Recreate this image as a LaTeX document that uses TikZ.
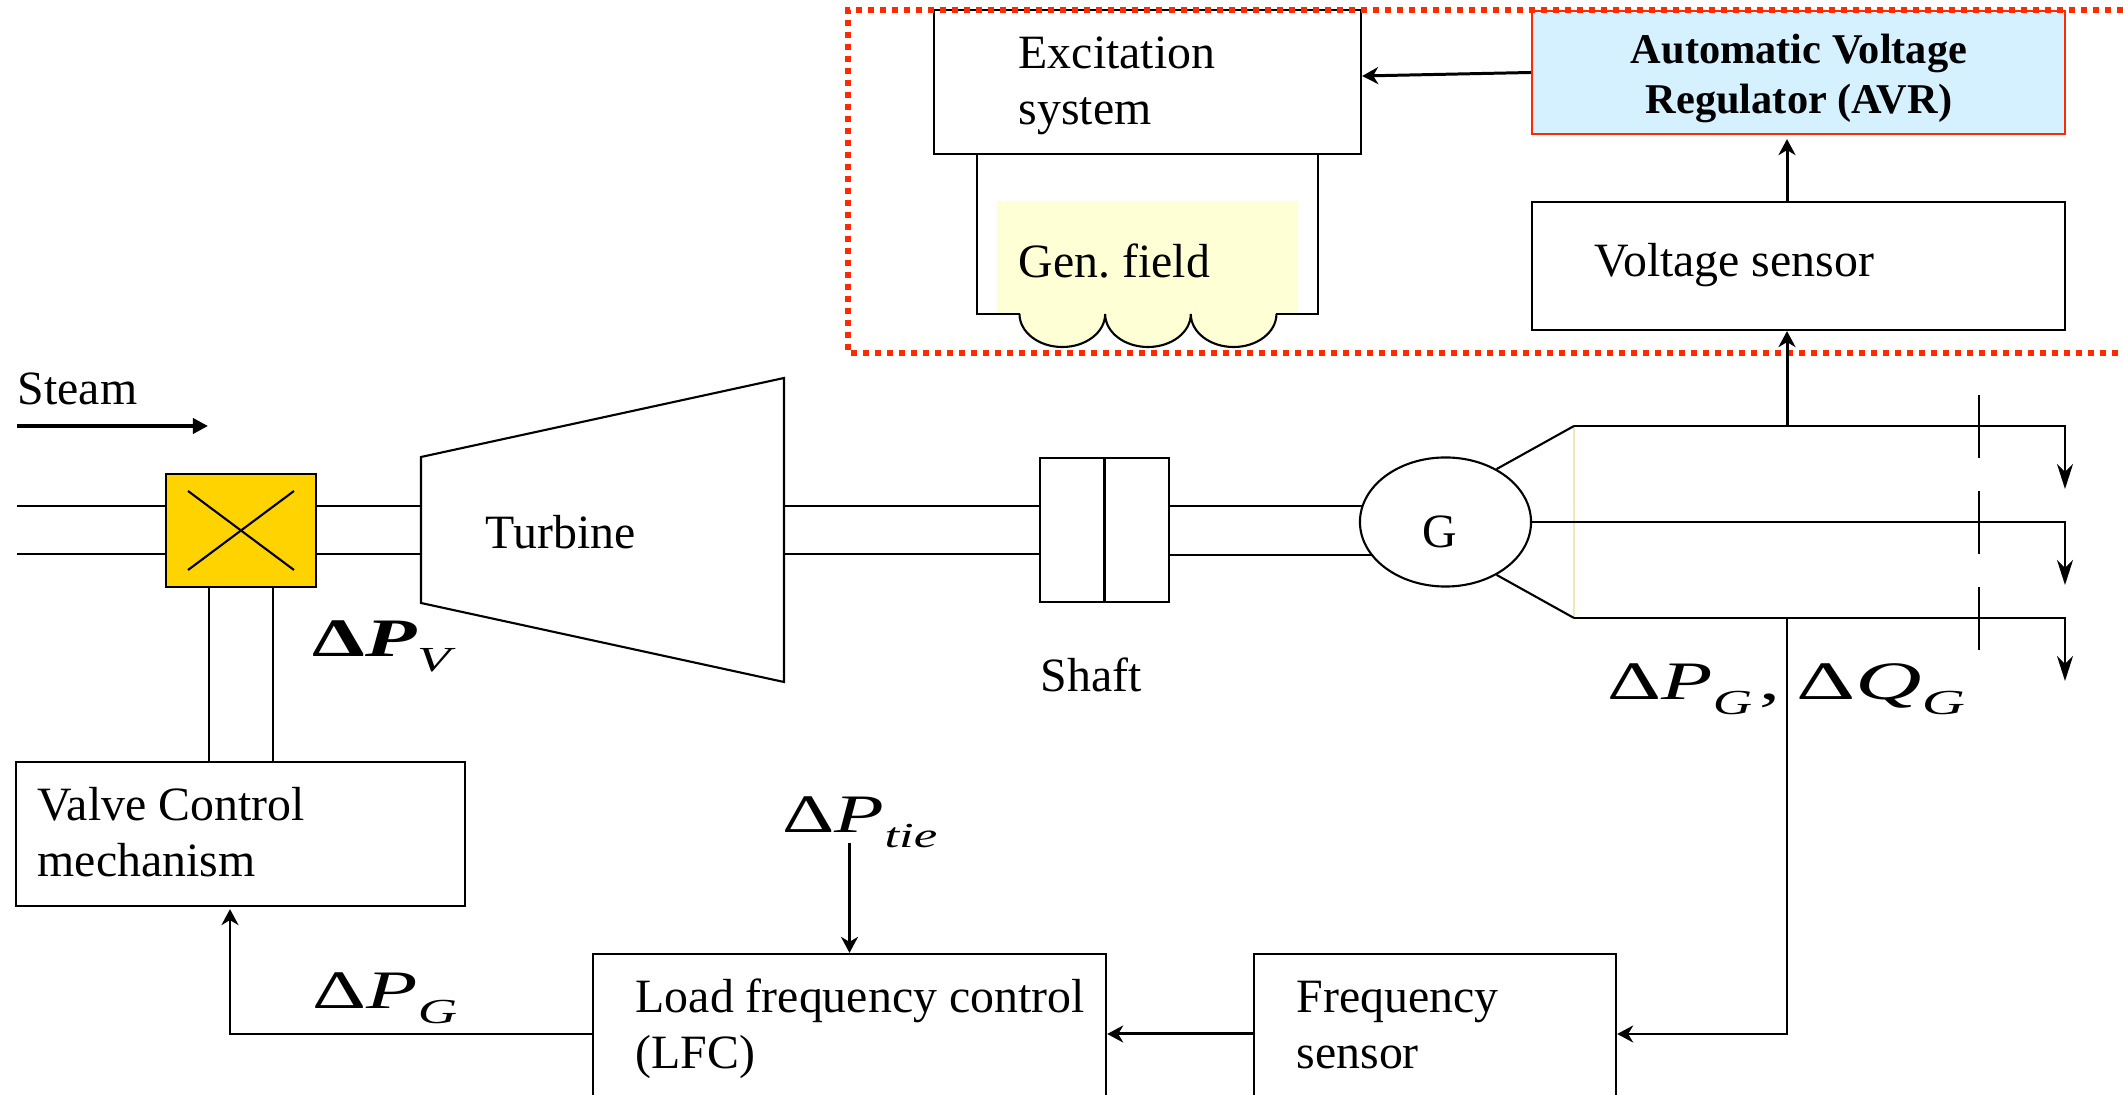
\documentclass[tikz,border=0pt]{standalone}
\usepackage{fontspec}
\setmainfont{Liberation Serif}
\usetikzlibrary{arrows.meta,shapes.geometric}

\definecolor{valveyellow}{HTML}{FFD300}
\definecolor{fieldyellow}{HTML}{FFFFD5}
\definecolor{avrblue}{HTML}{D5F0FF}
\definecolor{dotred}{HTML}{FF2A00}

\newcommand{\dvar}[2]{Δ\textit{#1}\raisebox{-0.26em}{\fontsize{10}{10}\selectfont\mdseries\textit{#2}}}

\tikzset{
  box/.style={draw,line width=0.6pt,inner sep=0pt},
  txt/.style={font=\fontsize{13.6}{16.1}\selectfont,align=left,anchor=base west,inner sep=0pt},
  dlbl/.style={font=\fontsize{15.4}{18}\selectfont,anchor=base west,inner sep=0pt},
  wire/.style={line width=0.6pt},
  sig/.style={line width=0.85pt,-{Stealth[length=0.16cm,width=0.17cm,inset=0.05cm]}},
  feed/.style={line width=0.6pt,-{Stealth[length=0.25cm,width=0.16cm,inset=0.08cm]}},
}

\begin{document}
\begin{tikzpicture}[x=0.01cm,y=-0.01cm,>=Stealth]
  \useasboundingbox (0,0) rectangle (2123,1095);

  \fill[fieldyellow] (996.5,201) rectangle (1298,314);
  \draw[wire,fill=fieldyellow] (1019.5,314) arc[start angle=180,end angle=360,x radius=0.428cm,y radius=0.33cm]
    arc[start angle=180,end angle=360,x radius=0.428cm,y radius=0.33cm]
    arc[start angle=180,end angle=360,x radius=0.428cm,y radius=0.33cm];

  \node[box,minimum width=4.27cm,minimum height=1.44cm] (exc) at (1147.5,82) {};
  \node[box,draw=dotred,fill=avrblue,minimum width=5.33cm,minimum height=1.23cm] (avr) at (1798.5,72.5) {};
  \node[box,minimum width=5.33cm,minimum height=1.28cm] (volt) at (1798.5,266) {};
  \node[box,fill=valveyellow,minimum width=1.50cm,minimum height=1.13cm] (valve) at (241,530.5) {};
  \node[box,minimum width=4.49cm,minimum height=1.44cm] (mech) at (240.5,834) {};
  \node[box,minimum width=5.13cm,minimum height=1.60cm] (lfc) at (849.5,1034) {};
  \node[box,minimum width=3.62cm,minimum height=1.60cm] (freq) at (1435,1034) {};
  \node[box,minimum width=1.29cm,minimum height=1.44cm] (shaft) at (1104.5,530) {};
  \node[box,ellipse,minimum width=1.71cm,minimum height=1.29cm] (gen) at (1445.5,522) {};

  \node[txt] (exctxt) at (1018,125) {Excitation\\system};
  \node[txt] (fieldtxt) at (1018,278) {Gen.\hspace{-0.08em} field};
  \node[txt,font=\fontsize{12.05}{14.4}\selectfont\bfseries,align=center,anchor=base] (avrtxt) at (1799,114) {Automatic Voltage\\Regulator (AVR)};
  \node[txt] (volttxt) at (1594,277) {Voltage sensor};
  \node[txt] (steamtxt) at (17,405) {Steam};
  \node[txt] (turbtxt) at (485,549) {Turbine};
  \node[txt] (shafttxt) at (1040,692) {Shaft};
  \node[txt,anchor=base] (gentxt) at (1440,548) {G};
  \node[txt] (mechtxt) at (37,877) {Valve Control\\mechanism};
  \node[txt] (lfctxt) at (635,1069) {Load frequency control\\(LFC)};
  \node[txt] (freqtxt) at (1296,1069) {Frequency\\sensor};

  \node[dlbl,font=\fontsize{15.4}{18}\selectfont\bfseries] (dpv) at (312,657) {\scalebox{1.55}[1]{\dvar{P}{V}}};
  \node[dlbl] (dpg) at (312,1009) {\scalebox{1.55}[1]{\dvar{P}{G}}};
  \node[dlbl] (dptie) at (782,833) {\scalebox{1.5}[1]{\dvar{P}{tie}}};
  \node[dlbl] (dpq) at (1607,700) {\scalebox{1.55}[1]{\dvar{P}{G}\kern0.08em,}\kern0.3em\scalebox{1.7}[1]{\dvar{Q}{G}}};

  \draw[line width=1.5pt,dotred,dash pattern=on 0.06cm off 0.06cm] (2123,10) -- (848,10) -- (848,353) -- (2123,353);

  \coordinate (tleftup) at (421,457);
  \coordinate (trightup) at (784,378);
  \coordinate (trightdn) at (784,682);
  \coordinate (tleftdn) at (421,603);
  \draw[wire] (tleftup) -- (trightup) -- (trightdn) -- (tleftdn) -- cycle;

  \foreach \py in {506,554} {
    \draw[wire] (17,\py) -- (valve.west |- 0,\py);
    \draw[wire] (valve.east |- 0,\py) -- (tleftup |- 0,\py);
    \draw[wire] (trightup |- 0,\py) -- (shaft.west |- 0,\py);
  }
  \draw[wire] (gen.169 -| shaft.east) -- (gen.169);
  \draw[wire] (gen.204 -| shaft.east) -- (gen.204);
  \draw[wire] (shaft.north) -- (shaft.south);

  \draw[wire] (188,491) -- (294,570);
  \draw[wire] (188,570) -- (294,491);
  \draw[wire] (209,587) -- (209,762);
  \draw[wire] (273,587) -- (273,762);
  \draw[line width=1pt,-{Triangle[length=0.15cm,width=0.15cm]}] (17,426) -- (208,426);

  \draw[wire] (977,154) |- (1019.5,314);
  \draw[wire] (1318,154) |- (1276,314);

  \coordinate (busa) at (1574,426);
  \coordinate (busc) at (1574,618);
  \draw[line width=0.5pt,yellow!60!gray!40] (busa) -- (busc);
  \draw[wire] (gen.46) -- (busa);
  \draw[wire] (gen.-46) -- (busc);
  \draw[feed] (busa) -- (2065,426) -- (2065,489);
  \draw[feed] (gen.east) -- (2065,522) -- (2065,585);
  \draw[feed] (busc) -- (2065,618) -- (2065,681);
  \foreach \ty in {395,491,587} {
    \draw[line width=0.6pt] (1979.2,\ty) -- (1979.2,\ty+63);
  }

  \coordinate (tapa) at (1787,426);
  \coordinate (tapc) at (1787,618);
  \draw[sig] (tapa) -- (tapa |- volt.south);
  \draw[sig,shorten >=0.04cm] (tapa |- volt.north) -- (tapa |- avr.south);
  \draw[sig] (avr.west) -- ([yshift=0.06cm]exc.east);
  \draw[sig,line width=0.6pt] (tapc) |- (freq.east);
  \draw[sig] (freq.west) -- (lfc.east);
  \draw[sig,line width=0.7pt,shorten >=0.02cm] (lfc.west) -| ([xshift=-0.105cm]mech.south);
  \draw[sig,line width=0.7pt] (dptie.base -| lfc.north) ++(0,10) -- (lfc.north);
\end{tikzpicture}
\end{document}
